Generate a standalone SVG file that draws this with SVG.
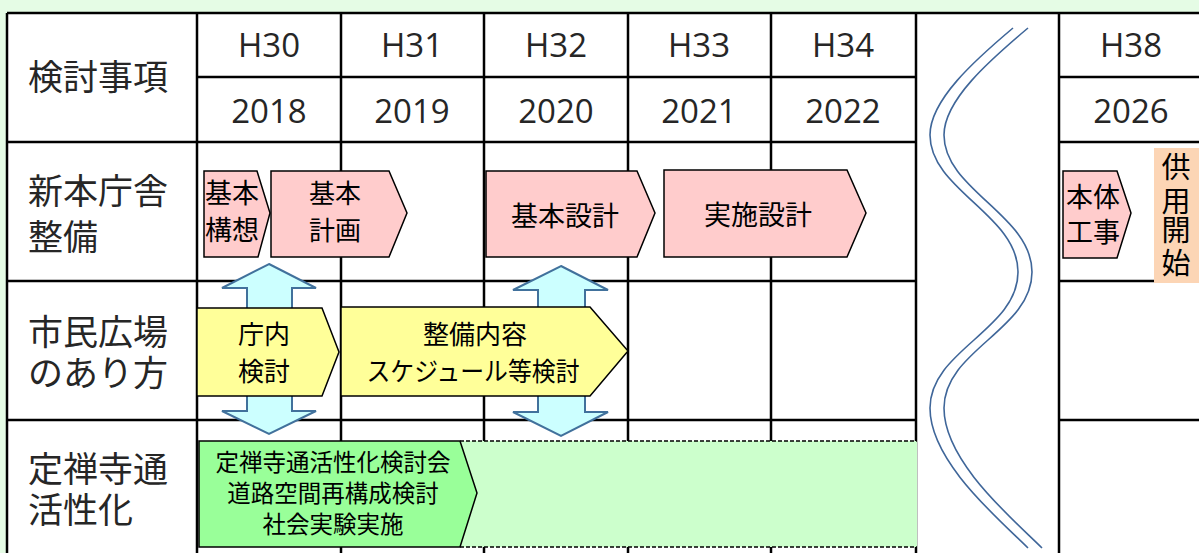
<svg xmlns="http://www.w3.org/2000/svg" width="1199" height="553" viewBox="0 0 1199 553">
<style>
.grid{stroke:#000;stroke-width:2.5;fill:none}
.hdr{font-family:"Noto Sans CJK JP",sans-serif;font-size:35px;fill:#262626}
.yr{font-family:"Open Sans","Noto Sans",sans-serif;font-size:33px;fill:#262626;text-anchor:middle}
.bx{stroke:#000;stroke-width:1.5}
.pink{fill:#ffcccc}
.yel{fill:#ffff99}
.grn{fill:#99ff99}
.t{font-family:"Noto Sans CJK JP",sans-serif;font-size:26px;fill:#000;text-anchor:middle}
.tg{font-family:"Noto Sans CJK JP",sans-serif;font-size:23.5px;fill:#000;text-anchor:middle}
.dbl{fill:#ccffff;stroke:#41719c;stroke-width:2}
.wave{fill:none;stroke:#3f6699;stroke-width:1.6}
</style>
<rect width="1199" height="553" fill="#e5fce5"/>
<rect x="7" y="13" width="1192" height="540" fill="#fff"/>
<g id="grid">
<path class="grid" d="M7 13V553M197 13V553M341 13V553M484 13V553M628 13V553M771 13V553M916 13V553M1059 13V553"/>
<path class="grid" d="M7 13H1199M197 77H916M1059 77H1199M7 142H916M1059 142H1199M7 281H916M1059 281H1199M7 420H916M1059 420H1199"/>
</g>
<g id="wave">
<path class="wave" d="M1013 28C975 60 930 100 930 135C930 190 1018 215 1018 272C1018 330 930 350 930 408C930 462 1000 520 1028 548"/>
<path class="wave" d="M1028 28C990 60 944 100 944 135C944 190 1032 215 1032 272C1032 330 944 350 944 408C944 462 1014 520 1042 548"/>
</g>
<g id="headers">
<text class="hdr" x="28" y="90">検討事項</text>
<text class="yr" x="269" y="57">H30</text>
<text class="yr" x="412" y="57">H31</text>
<text class="yr" x="556" y="57">H32</text>
<text class="yr" x="699" y="57">H33</text>
<text class="yr" x="843" y="57">H34</text>
<text class="yr" x="1131" y="57">H38</text>
<text class="yr" x="269" y="123">2018</text>
<text class="yr" x="412" y="123">2019</text>
<text class="yr" x="556" y="123">2020</text>
<text class="yr" x="699" y="123">2021</text>
<text class="yr" x="843" y="123">2022</text>
<text class="yr" x="1131" y="123">2026</text>
<text class="hdr" x="28" y="204">新本庁舎</text>
<text class="hdr" x="28" y="250">整備</text>
<text class="hdr" x="28" y="345">市民広場</text>
<text class="hdr" x="28" y="386">のあり方</text>
<text class="hdr" x="28" y="482">定禅寺通</text>
<text class="hdr" x="28" y="523">活性化</text>
</g>
<g id="connectors">
<polygon class="dbl" points="269,264 316,288 292,288 292,411 316,411 269,434 222,411 247,411 247,288 222,288"/>
<polygon class="dbl" points="561,266 608,290 585,290 585,412 608,412 561,436 513,412 538,412 538,290 513,290"/>
</g>
<g id="kihon-koso">
<polygon class="bx pink" points="204,171 257,171 270,213 258,257 204,257"/>
<text class="t" x="232" y="203" style="font-size:27px">基本</text>
<text class="t" x="232" y="240" style="font-size:27px">構想</text>
</g>
<g id="kihon-keikaku">
<polygon class="bx pink" points="271,171 389,171 407,213 389,257 271,257"/>
<text class="t" x="335" y="203">基本</text>
<text class="t" x="335" y="240">計画</text>
</g>
<g id="kihon-sekkei">
<polygon class="bx pink" points="486,171 637,171 655,213 637,257 486,257"/>
<text class="t" x="565" y="226" style="font-size:27px">基本設計</text>
</g>
<g id="jisshi-sekkei">
<polygon class="bx pink" points="664,170 847,170 866,213 847,257 664,257"/>
<text class="t" x="758" y="225" style="font-size:27px">実施設計</text>
</g>
<g id="hontai-koji">
<polygon class="bx pink" points="1063,171 1117,171 1131,213 1117,258 1063,258"/>
<text class="t" x="1093" y="207" style="font-size:27px">本体</text>
<text class="t" x="1093" y="242" style="font-size:27px">工事</text>
</g>
<g id="kyoyo-kaishi">
<rect x="1154" y="148" width="45" height="135" fill="#fcd5b5"/>
<text class="t" x="1176" y="178" style="font-size:29px">供</text>
<text class="t" x="1176" y="212" style="font-size:29px">用</text>
<text class="t" x="1176" y="241" style="font-size:29px">開</text>
<text class="t" x="1176" y="274" style="font-size:29px">始</text>
</g>
<g id="chonai-kento">
<polygon class="bx yel" points="197,308 322,308 339,352 322,396 197,396"/>
<text class="t" x="264" y="344">庁内</text>
<text class="t" x="264" y="381">検討</text>
</g>
<g id="seibi-naiyo">
<polygon class="bx yel" points="341,307 590,307 628,351 590,396 341,396"/>
<text class="t" x="475" y="344">整備内容</text>
<text class="t" x="473" y="381" textLength="213" lengthAdjust="spacingAndGlyphs">スケジュール等検討</text>
</g>
<g id="jozenji">
<rect x="460" y="441" width="457" height="106" fill="#ccffcc"/>
<path d="M460 441H917M460 547H917" stroke="#000" stroke-width="1.5" stroke-dasharray="4 2" fill="none"/>
<polygon class="bx grn" points="199,441 460,441 477,493 460,547 199,547"/>
<text class="tg" x="333" y="471">定禅寺通活性化検討会</text>
<text class="tg" x="333" y="502">道路空間再構成検討</text>
<text class="tg" x="333" y="533">社会実験実施</text>
</g>
</svg>
